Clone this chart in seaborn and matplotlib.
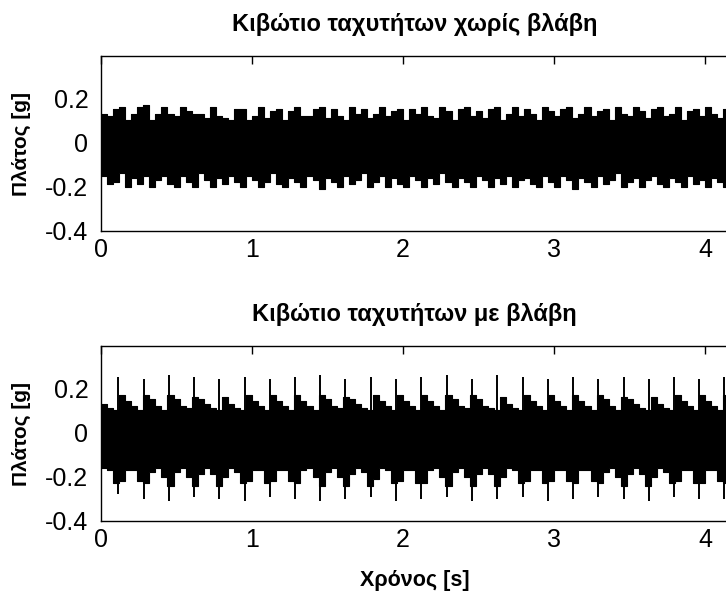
import numpy as np
import matplotlib
matplotlib.use("Agg")
import matplotlib.pyplot as plt
import seaborn as sns

# envelope of the vibration signal, one value every 0.04 s
dt = 0.04
ok_upper = [0.13, 0.12, 0.15, 0.16, 0.10, 0.13, 0.16, 0.17, 0.10, 0.13,
            0.16, 0.13, 0.12, 0.16, 0.14, 0.13, 0.13, 0.11, 0.16, 0.12,
            0.11, 0.10, 0.15, 0.15, 0.10, 0.12, 0.16, 0.11, 0.14, 0.15,
            0.10, 0.14, 0.16, 0.12, 0.12, 0.15, 0.16, 0.11, 0.15, 0.12,
            0.10, 0.16, 0.13, 0.15, 0.11, 0.13, 0.16, 0.12, 0.14, 0.15,
            0.10, 0.15, 0.13, 0.16, 0.12, 0.11, 0.16, 0.14, 0.10, 0.15,
            0.16, 0.12, 0.14, 0.11, 0.15, 0.16, 0.10, 0.13, 0.16, 0.12,
            0.15, 0.13, 0.10, 0.16, 0.14, 0.12, 0.15, 0.16, 0.11, 0.13,
            0.16, 0.12, 0.14, 0.15, 0.10, 0.16, 0.13, 0.12, 0.16, 0.14,
            0.11, 0.15, 0.16, 0.12, 0.13, 0.16, 0.10, 0.14, 0.15, 0.12,
            0.16, 0.13, 0.11, 0.15, 0.14]
ok_lower = [-0.15, -0.19, -0.18, -0.14, -0.20, -0.16, -0.19, -0.15, -0.20, -0.17,
            -0.15, -0.19, -0.20, -0.15, -0.18, -0.20, -0.14, -0.17, -0.20, -0.16,
            -0.19, -0.15, -0.18, -0.20, -0.15, -0.17, -0.20, -0.18, -0.14, -0.19,
            -0.20, -0.16, -0.18, -0.20, -0.15, -0.17, -0.21, -0.16, -0.18, -0.20,
            -0.15, -0.19, -0.17, -0.14, -0.20, -0.18, -0.15, -0.20, -0.16, -0.19,
            -0.20, -0.15, -0.17, -0.20, -0.16, -0.19, -0.14, -0.18, -0.20, -0.16,
            -0.18, -0.20, -0.15, -0.17, -0.20, -0.16, -0.19, -0.15, -0.20, -0.17,
            -0.16, -0.19, -0.20, -0.15, -0.18, -0.20, -0.15, -0.17, -0.21, -0.16,
            -0.18, -0.20, -0.15, -0.19, -0.17, -0.14, -0.20, -0.18, -0.16, -0.20,
            -0.17, -0.15, -0.19, -0.20, -0.16, -0.18, -0.20, -0.15, -0.19, -0.17,
            -0.20, -0.16, -0.18, -0.20, -0.17]
fault_upper = [0.13, 0.11, 0.10, 0.17, 0.14, 0.12, 0.10, 0.17, 0.15, 0.12,
               0.10, 0.17, 0.15, 0.12, 0.11, 0.16, 0.15, 0.13, 0.11, 0.10,
               0.16, 0.13, 0.11, 0.10, 0.17, 0.14, 0.12, 0.10, 0.17, 0.14,
               0.12, 0.10, 0.17, 0.14, 0.12, 0.10, 0.17, 0.15, 0.12, 0.11,
               0.16, 0.15, 0.13, 0.11, 0.10, 0.17, 0.14, 0.12, 0.10, 0.17,
               0.14, 0.12, 0.10, 0.17, 0.14, 0.12, 0.10, 0.17, 0.15, 0.12,
               0.11, 0.17, 0.15, 0.12, 0.11, 0.10, 0.16, 0.13, 0.11, 0.10,
               0.17, 0.14, 0.12, 0.10, 0.17, 0.14, 0.12, 0.10, 0.17, 0.14,
               0.12, 0.10, 0.17, 0.15, 0.12, 0.10, 0.16, 0.15, 0.13, 0.11,
               0.10, 0.16, 0.13, 0.11, 0.10, 0.17, 0.14, 0.12, 0.10, 0.17,
               0.14, 0.12, 0.10, 0.17, 0.15]
fault_lower = [-0.16, -0.17, -0.23, -0.22, -0.17, -0.17, -0.22, -0.23, -0.18, -0.16,
               -0.20, -0.24, -0.18, -0.16, -0.20, -0.24, -0.19, -0.16, -0.19, -0.24,
               -0.20, -0.16, -0.18, -0.23, -0.22, -0.17, -0.17, -0.23, -0.22, -0.17,
               -0.17, -0.22, -0.23, -0.17, -0.16, -0.20, -0.24, -0.18, -0.16, -0.20,
               -0.24, -0.19, -0.16, -0.18, -0.24, -0.21, -0.16, -0.17, -0.23, -0.22,
               -0.17, -0.17, -0.23, -0.23, -0.17, -0.16, -0.20, -0.24, -0.18, -0.16,
               -0.20, -0.24, -0.19, -0.16, -0.19, -0.24, -0.20, -0.16, -0.17, -0.23,
               -0.22, -0.17, -0.17, -0.23, -0.22, -0.17, -0.17, -0.22, -0.23, -0.17,
               -0.17, -0.22, -0.23, -0.18, -0.16, -0.20, -0.24, -0.19, -0.16, -0.19,
               -0.24, -0.20, -0.16, -0.18, -0.23, -0.22, -0.17, -0.17, -0.23, -0.23,
               -0.17, -0.17, -0.22, -0.23, -0.18]

# impacts of the damaged gear (time [s], peak up, peak down)
spike_t = [0.114, 0.286, 0.451, 0.617, 0.782, 0.952, 1.117, 1.282, 1.452, 1.617,
           1.789, 1.954, 2.120, 2.291, 2.454, 2.622, 2.796, 2.956, 3.122, 3.287,
           3.459, 3.624, 3.794, 3.960, 4.124]
spike_top = [0.25, 0.24, 0.26, 0.25, 0.24, 0.25, 0.24, 0.25, 0.26, 0.24,
             0.25, 0.24, 0.25, 0.26, 0.24, 0.26, 0.25, 0.24, 0.25, 0.24,
             0.25, 0.24, 0.25, 0.24, 0.25]
spike_bot = [-0.28, -0.30, -0.31, -0.29, -0.30, -0.31, -0.29, -0.30, -0.31, -0.30,
             -0.29, -0.31, -0.30, -0.29, -0.31, -0.30, -0.29, -0.31, -0.30, -0.29,
             -0.30, -0.31, -0.29, -0.30, -0.30]

titles = ["Κιβώτιο ταχυτήτων χωρίς βλάβη", "Κιβώτιο ταχυτήτων με βλάβη"]
ylabel = "Πλάτος [g]"
xlabel = "Χρόνος [s]"
yticks = [-0.4, -0.2, 0, 0.2]
ytick_labels = ["-0.4", "-0.2", "0", "0.2"]
xticks = [0, 1, 2, 3, 4]

sns.set_theme(style="white")
plt.rcParams["font.family"] = ["Liberation Sans", "DejaVu Sans"]
plt.rcParams["text.color"] = "black"
plt.rcParams["axes.labelcolor"] = "black"

fig = plt.figure(figsize=(7.26, 5.91), dpi=100)
W, H = 726, 591
ax_ok = fig.add_axes([101 / W, 1 - 231 / H, 627 / W, 175 / H])
ax_bad = fig.add_axes([101 / W, 1 - 521 / H, 627 / W, 175 / H])

t_env = np.arange(len(ok_upper)) * dt

# the dense signal is drawn as its band (step envelope)
for ax, up, lo in [(ax_ok, ok_upper, ok_lower), (ax_bad, fault_upper, fault_lower)]:
    ax.fill_between(t_env, lo, up, step="post", color="black", lw=0)
    sns.lineplot(x=t_env, y=up, ax=ax, color="black", lw=0.8, drawstyle="steps-post")
    sns.lineplot(x=t_env, y=lo, ax=ax, color="black", lw=0.8, drawstyle="steps-post")

ax_bad.vlines(spike_t, spike_bot, spike_top, color="black", lw=1.4)

for ax, title in zip([ax_ok, ax_bad], titles):
    ax.set_xlim(0, 4.15)
    ax.set_ylim(-0.4, 0.39)
    ax.set_xticks(xticks)
    ax.set_xticklabels([str(x) for x in xticks])
    ax.set_yticks(yticks)
    ax.set_yticklabels(ytick_labels)
    ax.tick_params(direction="in", length=6, width=1, top=True, right=False,
                   labelsize=18, colors="black")
    ax.tick_params(axis="y", pad=9)
    ax.tick_params(axis="x", pad=5)
    for s in ax.spines.values():
        s.set_color("black")
        s.set_linewidth(1)
    ax.set_title(title, fontsize=17, fontweight="bold", pad=18, color="black")
    ax.set_ylabel(ylabel, fontsize=15, fontweight="bold", color="black")
    ax.yaxis.set_label_coords(-0.112, 0.5)

ax_bad.set_xlabel(xlabel, fontsize=15.5, fontweight="bold", color="black")
ax_bad.xaxis.set_label_coords(0.5, -0.28)

fig.savefig("out.png", dpi=100)
